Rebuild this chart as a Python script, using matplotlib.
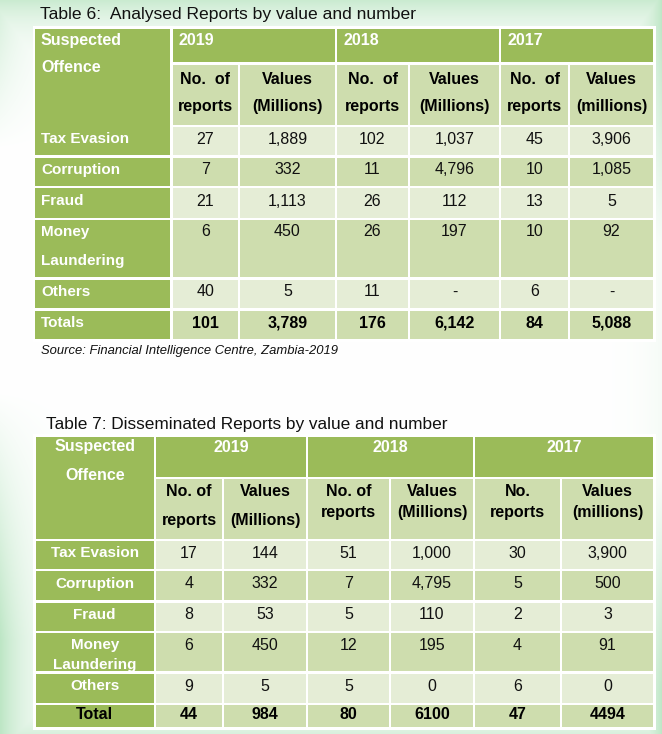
import matplotlib
matplotlib.use('Agg')
import matplotlib.pyplot as plt
from matplotlib.patches import Rectangle
from matplotlib.colors import to_rgb
from matplotlib import font_manager
import numpy as np

# ---------------- data ----------------
offences = ['Tax Evasion', 'Corruption', 'Fraud', 'Money\nLaundering', 'Others']
years = ['2019', '2018', '2017']

t6_reports_2019 = [27, 7, 21, 6, 40]
t6_values_2019 = [1889, 332, 1113, 450, 5]
t6_reports_2018 = [102, 11, 26, 26, 11]
t6_values_2018 = [1037, 4796, 112, 197, None]
t6_reports_2017 = [45, 10, 13, 10, 6]
t6_values_2017 = [3906, 1085, 5, 92, None]
t6_totals = [101, 3789, 176, 6142, 84, 5088]
t6_sub = [('No.  of', 'reports'), ('Values', '(Millions)'),
          ('No.  of', 'reports'), ('Values', '(Millions)'),
          ('No.  of', 'reports'), ('Values', '(millions)')]

t7_reports_2019 = [17, 4, 8, 6, 9]
t7_values_2019 = [144, 332, 53, 450, 5]
t7_reports_2018 = [51, 7, 5, 12, 5]
t7_values_2018 = [1000, 4795, 110, 195, 0]
t7_reports_2017 = [30, 5, 2, 4, 6]
t7_values_2017 = [3900, 500, 3, 91, 0]
t7_totals = [44, 984, 80, 6100, 47, 4494]
t7_sub = [('No. of', 'reports'), ('Values', '(Millions)'),
          ('No. of', 'reports'), ('Values', '(Millions)'),
          ('No.', 'reports'), ('Values', '(millions)')]

title6 = 'Table 6:  Analysed Reports by value and number'
title7 = 'Table 7: Disseminated Reports by value and number'
source = 'Source: Financial Intelligence Centre, Zambia-2019'

# ---------------- style ----------------
DARK = '#9BBB59'
BAND = '#CEDDAE'
LIGHT = '#E5EDD6'
W, H = 662, 734
WIDE = ['Liberation Sans', 'DejaVu Sans']

narrow_name = None
for f in font_manager.fontManager.ttflist:
    if 'Liberation Sans Narrow' in f.name:
        narrow_name = f.name
        break
if narrow_name:
    NARROW = [narrow_name, 'Liberation Sans', 'DejaVu Sans']
    DATA_FS, SUB_FS, TOT_FS = 12.5, 12.5, 13
else:
    NARROW = WIDE
    DATA_FS, SUB_FS, TOT_FS = 11.5, 11.5, 11.5

fig = plt.figure(figsize=(W / 100, H / 100), dpi=100)
ax = fig.add_axes([0, 0, 1, 1])
ax.set_xlim(0, W)
ax.set_ylim(H, 0)
ax.axis('off')

# background: white page with pale green glow along the edges
yy, xx = np.mgrid[0:H, 0:W].astype(float)
wl = np.clip((np.abs(yy - 270) - 120) / 250.0, 0, 1)
wr = np.clip((np.abs(yy - 360) - 80) / 250.0, 0.15, 1)
t_left = np.exp(-xx / 30.0) * wl
t_right = np.exp(-(W - xx) / 22.0) * wr
t_top = 0.8 * np.exp(-yy / 30.0)
t_bot = 0.6 * np.exp(-(H - yy) / 30.0)
t = np.clip(np.maximum.reduce([t_left, t_right, t_top, t_bot]), 0, 1)
edge = np.array(to_rgb('#BDE6C5'))
img = (1 - t)[..., None] * np.ones(3) + t[..., None] * edge
ax.imshow(img, extent=[0, W, H, 0], zorder=0, interpolation='bilinear')


def fmt(v, comma=True):
    if v is None:
        return '-'
    return f'{v:,}' if comma else str(v)


def cell(x0, x1, y0, y1, color, g=2.5, gtop=True, gbot=True):
    top = y0 + (g / 2 if gtop else 0)
    bot = y1 - (g / 2 if gbot else 0)
    ax.add_patch(Rectangle((x0 + g / 2, top), x1 - x0 - g, bot - top,
                           facecolor=color, edgecolor='none', zorder=2))


def label(x, y, s, ha, color='white', fs=11):
    ax.text(x, y, s, ha=ha, va='center', color=color, fontsize=fs,
            fontweight='bold', family=WIDE, zorder=3)


def draw_table(cx, ry, sub, cols, totals, comma_totals, centered, sub_y, ml_y,
               label_total, total_color, merge_head, year_left, ml_gap):
    ncols = 6
    ax.add_patch(Rectangle((cx[0] - 1.5, ry[0] - 1.5), cx[-1] - cx[0] + 3,
                           ry[-1] - ry[0] + 3, facecolor='white',
                           edgecolor='none', zorder=1))
    cell(cx[0], cx[1], ry[0], ry[2], DARK, gbot=not merge_head)
    for k, yr in enumerate(years):
        x0, x1 = cx[1 + 2 * k], cx[3 + 2 * k]
        cell(x0, x1, ry[0], ry[1], DARK)
        if year_left:
            label(x0 + 7, (ry[0] + ry[1]) / 2 - 5, yr, 'left', fs=11.5)
        else:
            label((x0 + x1) / 2, (ry[0] + ry[1]) / 2 - 9, yr, 'center', fs=11.5)
    for j in range(ncols):
        x0, x1 = cx[1 + j], cx[2 + j]
        cell(x0, x1, ry[1], ry[2], BAND)
        for txt, yv in zip(sub[j], sub_y[j]):
            ax.text((x0 + x1) / 2, yv, txt, ha='center', va='center',
                    color='black', fontsize=SUB_FS, fontweight='bold',
                    family=NARROW, zorder=3)
    for i, off in enumerate(offences):
        y0, y1 = ry[2 + i], ry[3 + i]
        color = LIGHT if i % 2 == 0 else BAND
        cell(cx[0], cx[1], y0, y1, DARK, gtop=not (merge_head and i == 0))
        ty = y0 + ml_y if '\n' in off else (y0 + y1) / 2 - 2
        for li, ln in enumerate(off.split('\n')):
            yv = ty + li * ml_gap
            if centered:
                label((cx[0] + cx[1]) / 2, yv, ln, 'center')
            else:
                label(cx[0] + 7, yv, ln, 'left')
        for j in range(ncols):
            x0, x1 = cx[1 + j], cx[2 + j]
            cell(x0, x1, y0, y1, color)
            v = cols[j][i]
            txt = fmt(v) if j % 2 == 1 else str(v)
            ax.text((x0 + x1) / 2, ty, txt, ha='center', va='center',
                    color='#111111', fontsize=DATA_FS, family=NARROW, zorder=3)
    y0, y1 = ry[7], ry[8]
    cell(cx[0], cx[1], y0, y1, DARK)
    ty = (y0 + y1) / 2 - 2
    if centered:
        label((cx[0] + cx[1]) / 2, ty, label_total, 'center', total_color, 11.5)
    else:
        label(cx[0] + 7, ty, label_total, 'left', total_color)
    for j in range(ncols):
        x0, x1 = cx[1 + j], cx[2 + j]
        cell(x0, x1, y0, y1, BAND)
        ax.text((x0 + x1) / 2, ty, fmt(totals[j], comma_totals), ha='center',
                va='center', color='black', fontsize=TOT_FS, fontweight='bold',
                family=NARROW, zorder=3)


# ---------------- Table 6 ----------------
ax.text(40, 15, title6, ha='left', va='center', fontsize=12.6, family=WIDE,
        color='#111111', zorder=3)
cx6 = [34, 171.5, 239, 336, 409, 500, 569, 654]
ry6 = [27.5, 63.5, 126, 156.5, 187, 219, 278.5, 309.5, 340.5]
cols6 = [t6_reports_2019, t6_values_2019, t6_reports_2018, t6_values_2018,
         t6_reports_2017, t6_values_2017]
draw_table(cx6, ry6, t6_sub, cols6, t6_totals, True, False,
           [(79, 107)] * 6, 13, 'Totals', 'white', True, True, 29)
label(41, 40, 'Suspected', 'left', fs=11.5)
label(41, 68, 'Offence', 'left', fs=11.5)
ax.text(41, 351, source, ha='left', va='center', fontsize=9.4,
        style='italic', family=WIDE, color='#111111', zorder=3)

# ---------------- Table 7 ----------------
ax.text(46, 424, title7, ha='left', va='center', fontsize=12.4, family=WIDE,
        color='#111111', zorder=3)
cx7 = [34.5, 155, 223, 307, 390, 474, 561, 654]
ry7 = [435.5, 478, 540, 570, 601.5, 632, 672.5, 704, 728.5]
cols7 = [t7_reports_2019, t7_values_2019, t7_reports_2018, t7_values_2018,
         t7_reports_2017, t7_values_2017]
draw_table(cx7, ry7, t7_sub, cols7, t7_totals, False, True,
           [(492, 521), (492, 521), (492, 512), (492, 512), (492, 512), (492, 512)],
           13, 'Total', 'black', False, False, 20)
label(95, 447, 'Suspected', 'center', fs=11.5)
label(95, 476, 'Offence', 'center', fs=11.5)
ax.text(41, 740, source, ha='left', va='center', fontsize=9.4,
        style='italic', family=WIDE, color='#111111', zorder=3)

fig.savefig('out.png', dpi=100)
